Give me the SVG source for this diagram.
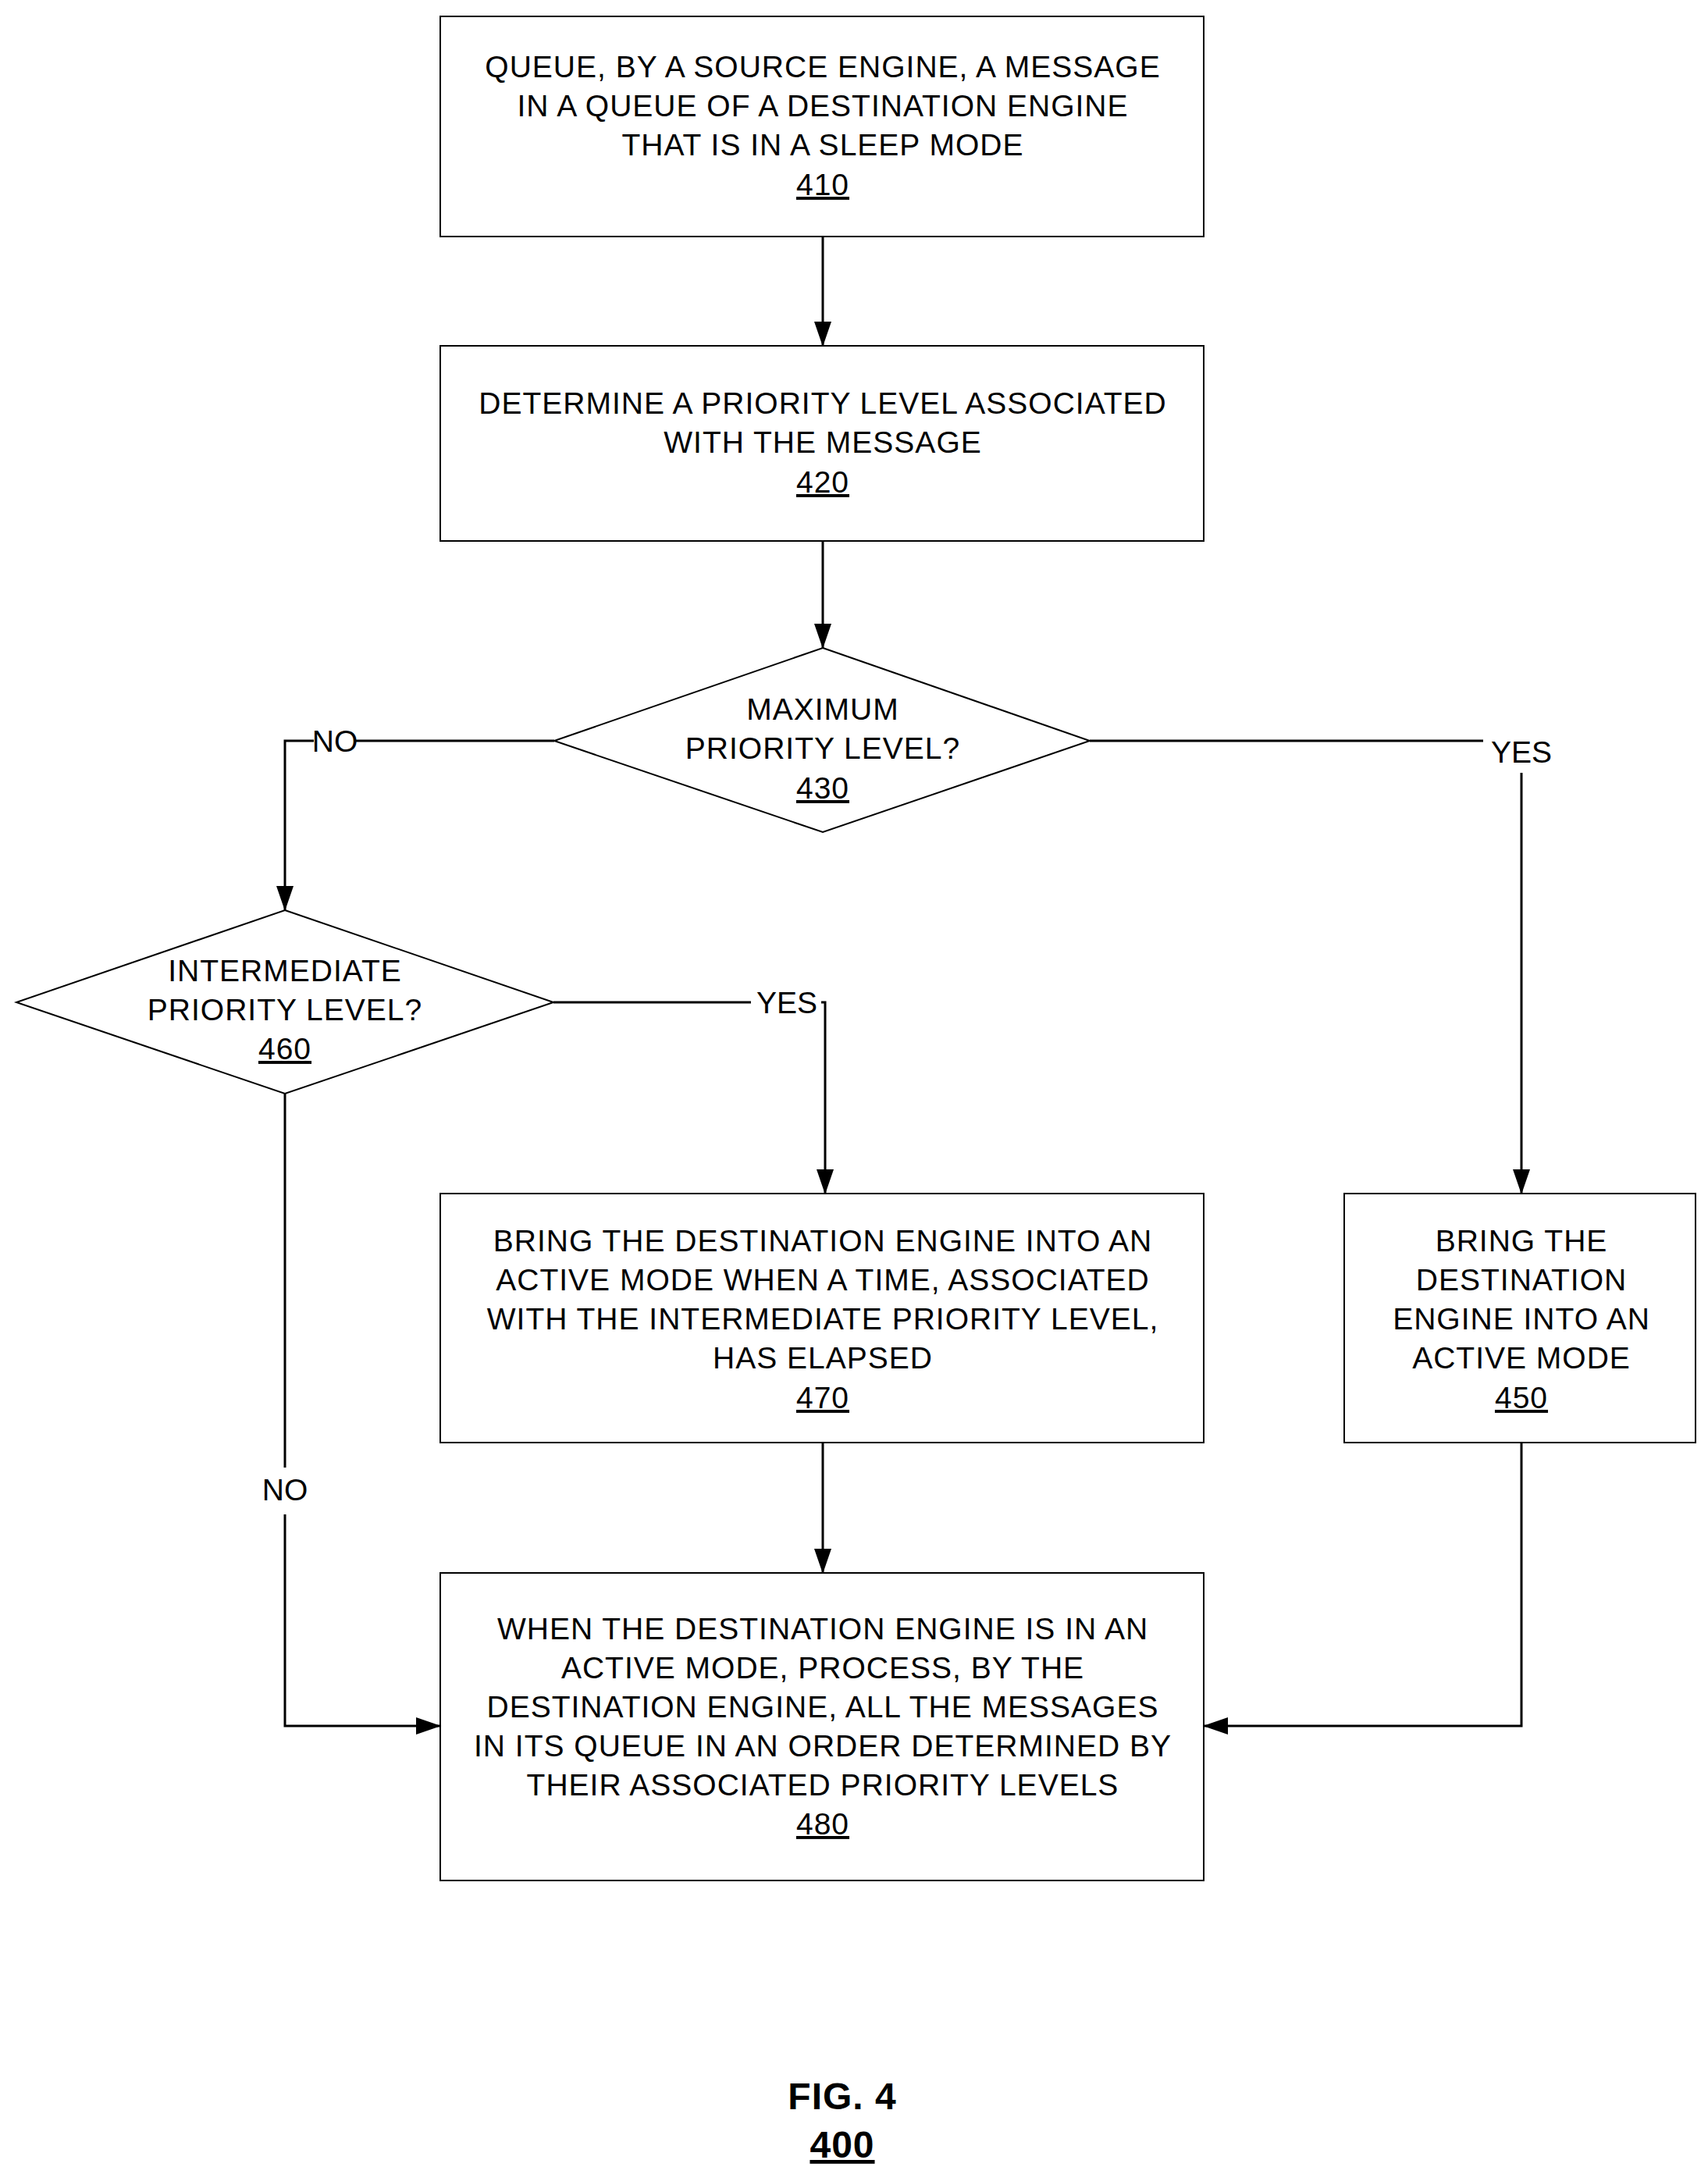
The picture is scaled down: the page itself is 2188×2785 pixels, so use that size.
<svg xmlns="http://www.w3.org/2000/svg" width="2188" height="2785" viewBox="0 0 2188 2785">
<style>
.b{fill:#fff;stroke:#000;stroke-width:2}
.t{font-family:"Liberation Sans",Arial,sans-serif;font-size:39px;text-anchor:middle;fill:#000;letter-spacing:1px}
.u{text-decoration:underline}
.c{fill:none;stroke:#000;stroke-width:3}
.l{font-family:"Liberation Sans",Arial,sans-serif;font-size:39px;text-anchor:middle;fill:#000}
</style>
<defs><marker id="a" markerWidth="32" markerHeight="22" refX="31" refY="11" orient="auto" markerUnits="userSpaceOnUse"><path d="M0,0L32,11L0,22z" fill="#000"/></marker></defs>
<rect width="2188" height="2785" fill="#fff"/>
<g id="connectors">
<path class="c" d="M1054,303V443" marker-end="url(#a)"/>
<path class="c" d="M1054,693V830" marker-end="url(#a)"/>
<path class="c" d="M710,949H455M402,949H365V1166" marker-end="url(#a)"/>
<path class="c" d="M1396,949H1900M1949,990V1529" marker-end="url(#a)"/>
<path class="c" d="M709,1284H962M1052,1284H1057V1529" marker-end="url(#a)"/>
<path class="c" d="M365,1401V1880M365,1940V2211H564" marker-end="url(#a)"/>
<path class="c" d="M1054,1848V2015" marker-end="url(#a)"/>
<path class="c" d="M1949,1848V2211H1542" marker-end="url(#a)"/>
<text class="l" x="429" y="963">NO</text>
<text class="l" x="1949" y="977">YES</text>
<text class="l" x="1008" y="1298">YES</text>
<text class="l" x="365" y="1922">NO</text>
</g>
<g id="n410"><rect class="b" x="564" y="21" width="978" height="282"/>
<text class="t" x="1054" y="99">QUEUE, BY A SOURCE ENGINE, A MESSAGE</text>
<text class="t" x="1054" y="149">IN A QUEUE OF A DESTINATION ENGINE</text>
<text class="t" x="1054" y="199">THAT IS IN A SLEEP MODE</text>
<text class="t u" x="1054" y="250">410</text></g>
<g id="n420"><rect class="b" x="564" y="443" width="978" height="250"/>
<text class="t" x="1054" y="530">DETERMINE A PRIORITY LEVEL ASSOCIATED</text>
<text class="t" x="1054" y="580">WITH THE MESSAGE</text>
<text class="t u" x="1054" y="631">420</text></g>
<g id="n430"><polygon class="b" points="1054,830 1396,949 1054,1066 710,949"/>
<text class="t" x="1054" y="922">MAXIMUM</text>
<text class="t" x="1054" y="972">PRIORITY LEVEL?</text>
<text class="t u" x="1054" y="1023">430</text></g>
<g id="n460"><polygon class="b" points="365,1166 709,1284 365,1401 21,1284"/>
<text class="t" x="365" y="1257">INTERMEDIATE</text>
<text class="t" x="365" y="1307">PRIORITY LEVEL?</text>
<text class="t u" x="365" y="1357">460</text></g>
<g id="n470"><rect class="b" x="564" y="1529" width="978" height="319"/>
<text class="t" x="1054" y="1603">BRING THE DESTINATION ENGINE INTO AN</text>
<text class="t" x="1054" y="1653">ACTIVE MODE WHEN A TIME, ASSOCIATED</text>
<text class="t" x="1054" y="1703">WITH THE INTERMEDIATE PRIORITY LEVEL,</text>
<text class="t" x="1054" y="1753">HAS ELAPSED</text>
<text class="t u" x="1054" y="1804">470</text></g>
<g id="n450"><rect class="b" x="1722" y="1529" width="450" height="319"/>
<text class="t" x="1949" y="1603">BRING THE</text>
<text class="t" x="1949" y="1653">DESTINATION</text>
<text class="t" x="1949" y="1703">ENGINE INTO AN</text>
<text class="t" x="1949" y="1753">ACTIVE MODE</text>
<text class="t u" x="1949" y="1804">450</text></g>
<g id="n480"><rect class="b" x="564" y="2015" width="978" height="394"/>
<text class="t" x="1054" y="2100">WHEN THE DESTINATION ENGINE IS IN AN</text>
<text class="t" x="1054" y="2150">ACTIVE MODE, PROCESS, BY THE</text>
<text class="t" x="1054" y="2200">DESTINATION ENGINE, ALL THE MESSAGES</text>
<text class="t" x="1054" y="2250">IN ITS QUEUE IN AN ORDER DETERMINED BY</text>
<text class="t" x="1054" y="2300">THEIR ASSOCIATED PRIORITY LEVELS</text>
<text class="t u" x="1054" y="2350">480</text></g>
<g id="fig"><text class="t" x="1079" y="2702" style="font-weight:bold;font-size:48px">FIG. 4</text>
<text class="t u" x="1079" y="2764" style="font-weight:bold;font-size:48px">400</text></g>
</svg>
